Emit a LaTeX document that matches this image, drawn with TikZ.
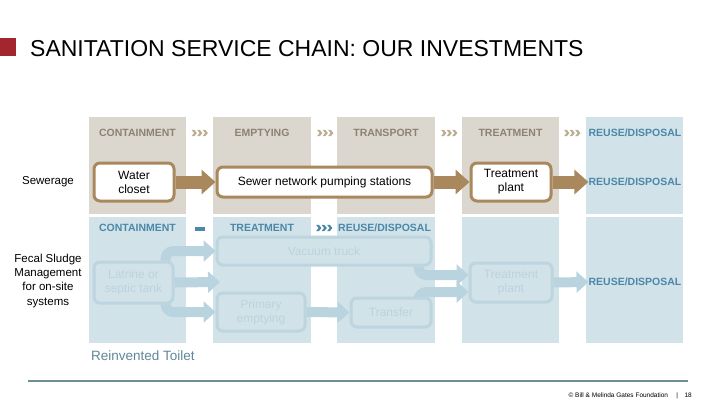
\documentclass[tikz,border=0pt]{standalone}
\usepackage{fontspec}
\setmainfont{Liberation Sans}
\usetikzlibrary{arrows.meta,calc}
\definecolor{colgrey}{HTML}{DBD7CF}
\definecolor{colblue}{HTML}{D2E2E9}
\definecolor{hdrgrey}{HTML}{8B8272}
\definecolor{hdrblue}{HTML}{4B88A8}
\definecolor{chevtan}{HTML}{BCAE94}
\definecolor{brownline}{HTML}{A8885C}
\definecolor{fadeline}{HTML}{BCD5DF}
\definecolor{fadetext}{HTML}{BCD3DD}
\definecolor{arrblue}{HTML}{BAD4DF}
\definecolor{titlered}{HTML}{A3262E}
\definecolor{toiletcol}{HTML}{5E8796}
\definecolor{footline}{HTML}{6F8F98}
\pgfdeclarelayer{bg}
\pgfdeclarelayer{mid}
\pgfsetlayers{bg,mid,main}
\newcommand{\chevs}[3]{%
  \foreach \dx in {0,5.5,11}{%
    \fill[#3] ({#1+\dx-8},{#2-3.2}) -- ({#1+\dx-5.2},{#2-3.2}) -- ({#1+\dx-2.6},{#2}) -- ({#1+\dx-5.2},{#2+3.2}) -- ({#1+\dx-8},{#2+3.2}) -- ({#1+\dx-5.4},{#2}) -- cycle;
  }%
}
\begin{document}
\begin{tikzpicture}[x=1pt,y=-1pt,
  hdr/.style={font=\fontsize{10.5}{12}\selectfont\bfseries, text=hdrgrey, inner sep=0pt},
  hdrb/.style={hdr, text=hdrblue},
  wbox/.style={draw=brownline, line width=3pt, fill=white, rounded corners=6pt, align=center,
    font=\fontsize{12}{14}\selectfont, inner sep=0pt},
  fbox/.style={draw=fadeline, line width=3pt, fill=colblue, rounded corners=6pt, align=center,
    font=\fontsize{12}{14}\selectfont, text=fadetext, inner sep=0pt},
  brarrow/.style={draw=brownline, line width=13pt, -{Triangle[length=14pt,width=24pt]}},
  blarrow/.style={draw=arrblue, line width=10pt, rounded corners=8pt, -{Triangle[length=12pt,width=21pt]}},
  lbl/.style={align=center, font=\fontsize{11.5}{14.2}\selectfont, inner sep=0pt}
]
\useasboundingbox (0,0) rectangle (720,405);

% columns
\begin{pgfonlayer}{bg}
  \foreach \xa/\xb in {89/186,213/311,337/435,462/559}{
    \fill[colgrey] (\xa,117) rectangle (\xb,214);
    \fill[colblue] (\xa,217) rectangle (\xb,343);
  }
  \fill[colblue] (586,117) rectangle (683,214);
  \fill[colblue] (586,217) rectangle (683,343);
\end{pgfonlayer}

% title
\fill[titlered] (0,38) rectangle (16,56);
\node[anchor=base west, inner sep=0pt, font=\fontsize{23}{26}\selectfont] (title) at (30,56.5) {SANITATION SERVICE CHAIN: OUR INVESTMENTS};

% headers row 1
\node[hdr] (h1) at (137.5,133) {CONTAINMENT};
\node[hdr] (h2) at (262,133) {EMPTYING};
\node[hdr] (h3) at (386,133) {TRANSPORT};
\node[hdr] (h4) at (510.5,133) {TREATMENT};
\node[hdrb] (h5) at (635,133) {REUSE/DISPOSAL};
\chevs{199.5}{133}{chevtan}
\chevs{325}{133}{chevtan}
\chevs{449}{133}{chevtan}
\chevs{572}{133}{chevtan}

% headers row 2
\node[hdrb] (k1) at (137.5,228) {CONTAINMENT};
\fill[hdrblue] (195,226.5) rectangle (205,230.5);
\node[hdrb] (k2) at (262,228) {TREATMENT};
\chevs{324}{228}{hdrblue}
\node[hdrb, anchor=west] (k3) at (338,228) {REUSE/DISPOSAL};

% left labels
\node[lbl] (sew) at (48,182) {Sewerage};
\node[lbl, anchor=north] (fsm) at (48,254) {Fecal Sludge\\Management\\for on-site\\systems};

% row 1 boxes
\node[wbox, minimum width=80pt, minimum height=38pt] (wc) at (134,182) {Water\\closet};
\node[wbox, minimum width=215pt, minimum height=30pt] (sewer) at (324.5,182) {Sewer network pumping stations};
\node[wbox, minimum width=80pt, minimum height=38pt] (tp) at (511,182) {Treatment\\plant};
\node[hdrb] (r1) at (635,182) {REUSE/DISPOSAL};

\begin{pgfonlayer}{mid}
  \draw[brarrow] (wc.east) -- (sewer.west);
  \draw[brarrow] (sewer.east) -- (tp.west);
  \draw[brarrow] (tp.east) -- (r1.west);
\end{pgfonlayer}

% row 2 boxes
\node[fbox, minimum width=214pt, minimum height=28pt] (truck) at (324,251) {Vacuum truck};
\node[fbox, minimum width=79pt, minimum height=41pt] (latrine) at (133.5,282.5) {Latrine or\\septic tank};
\node[fbox, minimum width=88pt, minimum height=38pt] (primary) at (261,312) {Primary\\emptying};
\node[fbox, minimum width=80pt, minimum height=29pt] (transfer) at (391,312.5) {Transfer};
\node[fbox, minimum width=82pt, minimum height=39pt] (tp2) at (511,282.5) {Treatment\\plant};
\node[hdrb] (r2) at (635,282) {REUSE/DISPOSAL};
\coordinate (midend) at (220,282);

\begin{pgfonlayer}{mid}
  \draw[blarrow] ([xshift=-9pt]latrine.north east) |- (truck.west);
  \draw[blarrow] (latrine.east) -- (midend);
  \draw[blarrow] ([xshift=-9pt]latrine.south east) |- (primary.west);
  \draw[blarrow] (primary.east) -- (transfer.west);
  \draw[blarrow] ([xshift=-14pt]truck.south east) |- ([yshift=7.5pt]tp2.west);
  \draw[blarrow] ([xshift=-14pt]transfer.north east) |- ([yshift=-9.5pt]tp2.west);
  \draw[blarrow] (tp2.east) -- (r2.west);
\end{pgfonlayer}

% bottom
\node[anchor=base west, inner sep=0pt, text=toiletcol, font=\fontsize{13.5}{16}\selectfont] (toilet) at (91,360) {Reinvented Toilet};
\coordinate (fl1) at (28,381);
\coordinate (fl2) at (688,381);
\draw[footline, line width=1.2pt] (fl1) -- (fl2);
\node[anchor=base east, inner sep=0pt, font=\fontsize{6.5}{8}\selectfont] (foot) at (692,397) {\textcopyright{} Bill \& Melinda Gates Foundation \quad|\quad 18};
\end{tikzpicture}
\end{document}
